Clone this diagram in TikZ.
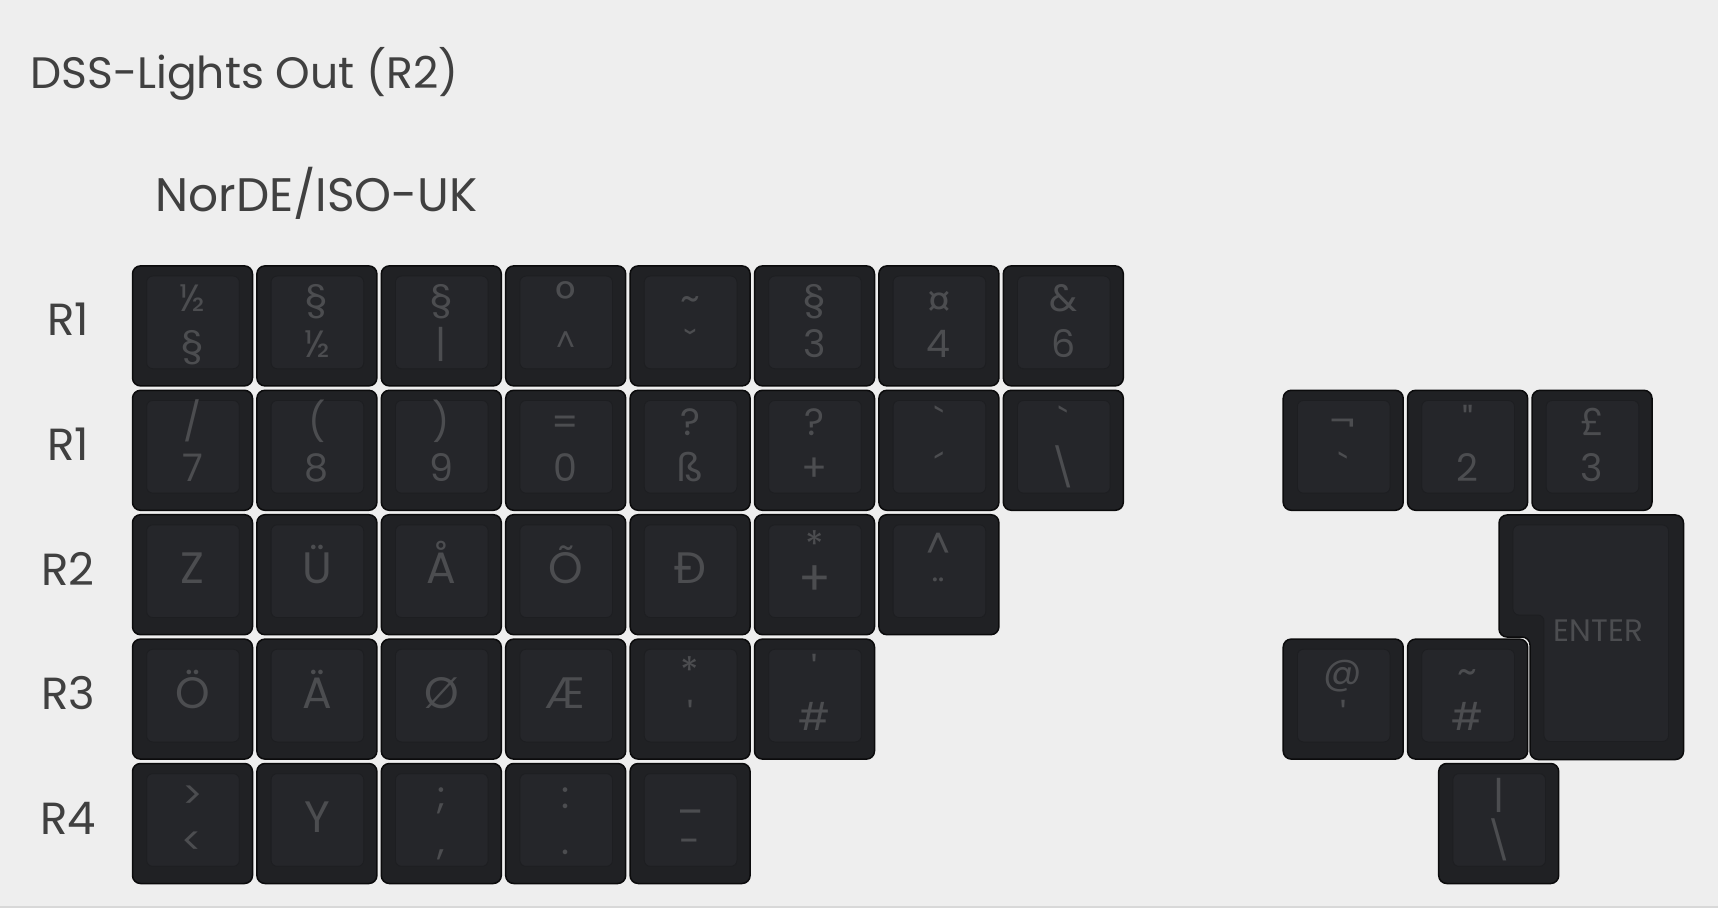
\documentclass[tikz,border=0pt]{standalone}
\usepackage{fontspec}
\setmainfont{Poppins}[Ligatures=TeXOff]
\definecolor{bg}{HTML}{EEEEEE}
\definecolor{keyline}{HTML}{0B0B0C}
\definecolor{keyfill}{HTML}{202124}
\definecolor{keytop}{HTML}{25262A}
\definecolor{keytopline}{HTML}{1D1E21}
\definecolor{legcol}{HTML}{4C4D50}
\definecolor{txt}{HTML}{404040}
\definecolor{bline}{HTML}{D8D8D8}
\tikzset{
  keyout/.style={rectangle, rounded corners=4pt, minimum width=60pt, minimum height=60pt,
    draw=keyline, line width=0.75pt, fill=keyfill, inner sep=0pt},
  keyin/.style={rectangle, rounded corners=3pt, minimum width=46.3pt, minimum height=46.3pt,
    draw=keytopline, line width=0.4pt, fill=keytop, inner sep=0pt},
  leg/.style={text=legcol, inner sep=0pt, font=\fontsize{19}{19}\selectfont},
  legbig/.style={text=legcol, inner sep=0pt, font=\fontsize{22}{22}\selectfont},
  rowlbl/.style={text=txt, inner sep=0pt, anchor=base, font=\fontsize{22.5}{22.5}\selectfont},
  heading/.style={text=txt, inner sep=0pt, anchor=base west, font=\fontsize{23.5}{23.5}\selectfont},
}
\newcommand\kbase[3]{%
  \node[keyout] (#1) at ({130.3+(#2+0.5)*124.4},{263.7+(#3+0.5)*124.4}) {};
  \node[keyin] (#1in) at ([xshift=0.25pt,yshift=1.75pt]#1.center) {};
}
\newcommand\kd[5]{\kbase{#1}{#2}{#3}
  \node[leg,anchor=base] (#1t) at ([yshift=-23pt]#1.north) {#4};
  \node[leg,anchor=base] (#1b) at ([yshift=-46pt]#1.north) {#5};}
\newcommand\ks[4]{\kbase{#1}{#2}{#3}
  \node[legbig,anchor=base] (#1s) at ([yshift=-35pt]#1.north) {#4};}
\newcommand\bigsym[3]{\raisebox{#2}{\fontsize{#1}{#1}\selectfont #3}}
\begin{document}
\begin{tikzpicture}[x=0.5pt,y=-0.5pt]
\useasboundingbox (0,0) rectangle (1718,908);
\fill[bg] (0,0) rectangle (1718,908);
\draw[bline, line width=1pt] (0,907) -- (1718,907);

\node[heading, font=\fontsize{22}{22}\selectfont] (title) at (30,88.3) {DSS-Lights Out (R2)};
\node[heading] (sub) at (155,211.7) {NorDE/ISO-UK};

\node[rowlbl] (l0) at (68,336) {R1};
\node[rowlbl] (l1) at (68,460.5) {R1};
\node[rowlbl] (l2) at (68,585) {R2};
\node[rowlbl] (l3) at (68,709.5) {R3};
\node[rowlbl] (l4) at (68,834) {R4};

% row 0
\kd{k00}{0}{0}{½}{§}
\kd{k01}{1}{0}{§}{½}
\kd{k02}{2}{0}{§}{|}
\kd{k03}{3}{0}{\bigsym{25}{-2.5pt}{°}}{\bigsym{15}{2.5pt}{\textasciicircum}}
\kd{k04}{4}{0}{\textasciitilde}{ˇ}
\kd{k05}{5}{0}{§}{3}
\kd{k06}{6}{0}{\bigsym{24}{-4pt}{¤}}{4}
\kd{k07}{7}{0}{\&}{6}
% row 1
\kd{k10}{0}{1}{/}{7}
\kd{k11}{1}{1}{(}{8}
\kd{k12}{2}{1}{)}{9}
\kd{k13}{3}{1}{=}{0}
\kd{k14}{4}{1}{?}{ß}
\kd{k15}{5}{1}{?}{+}
\kd{k16}{6}{1}{`}{´}
\kd{k17}{7}{1}{`}{\textbackslash}
% row 2
\ks{k20}{0}{2}{Z}
\ks{k21}{1}{2}{Ü}
\ks{k22}{2}{2}{Å}
\ks{k23}{3}{2}{Õ}
\ks{k24}{4}{2}{Ð}
\kbase{k25}{5}{2}
\node[leg,anchor=base] (k25t) at ([yshift=-22.5pt]k25.north) {*};
\node[leg,anchor=base,font=\fontsize{24}{24}\selectfont] (k25b) at ([yshift=-41pt]k25.north) {+};
\kd{k26}{6}{2}{\textasciicircum}{¨}
% row 3
\ks{k30}{0}{3}{Ö}
\ks{k31}{1}{3}{Ä}
\ks{k32}{2}{3}{Ø}
\ks{k33}{3}{3}{Æ}
\kd{k34}{4}{3}{*}{'}
\kd{k35}{5}{3}{'}{\#}
% row 4
\kd{k40}{0}{4}{>}{<}
\ks{k41}{1}{4}{Y}
\kd{k42}{2}{4}{;}{,}
\kd{k43}{3}{4}{:}{.}
\kd{k44}{4}{4}{\_}{-}
% right cluster
\kd{k1a}{9.25}{1}{¬}{`}
\kd{k1b}{10.25}{1}{"}{2}
\kd{k1c}{11.25}{1}{£}{3}
\kd{k3a}{9.25}{3}{@}{'}
\kd{k3b}{10.25}{3}{\textasciitilde}{\#}
\kd{k4a}{10.5}{4}{|}{\textbackslash}
% enter
\path[draw=keyline, line width=0.75pt, fill=keyfill, rounded corners=4pt]
  (1499,515) -- (1683.5,515) -- (1683.5,759.5) -- (1530,759.5) -- (1530,637) -- (1499,637) -- cycle;
\path[draw=keytopline, line width=0.4pt, fill=keytop, rounded corners=3pt]
  (1513,525) -- (1668.5,525) -- (1668.5,741.5) -- (1544,741.5) -- (1544,615) -- (1513,615) -- cycle;
\node[text=legcol, inner sep=0pt, font=\fontsize{15.5}{15.5}\selectfont] (enter) at (1598.3,631) {ENTER};
\end{tikzpicture}
\end{document}
